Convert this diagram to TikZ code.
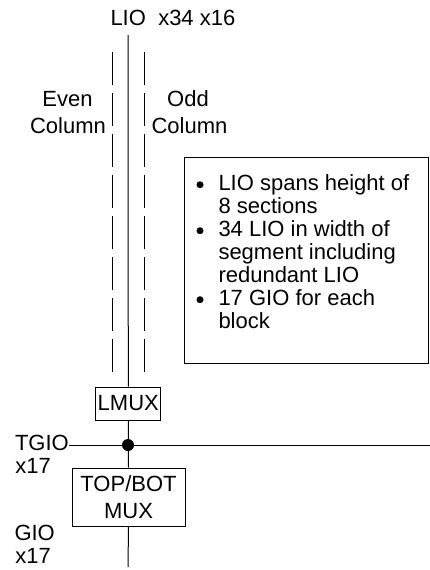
\documentclass[tikz,border=0pt]{standalone}
\usepackage{fontspec}
\setmainfont{Liberation Sans}
\begin{document}
\begin{tikzpicture}[x=1pt,y=-1pt,line width=1pt,
  txt/.style={font=\fontsize{22}{26.7}\selectfont, inner sep=0pt},
  boxn/.style={draw, inner sep=0pt, font=\fontsize{22}{26.7}\selectfont, align=center},
  dashline/.style={dash pattern=on 33pt off 8pt},
  bul/.style={circle, fill, inner sep=0pt, minimum size=7pt},
  dot/.style={circle, fill, inner sep=0pt, minimum size=12pt}]
\useasboundingbox (0,0) rectangle (430,570);
% top label
\node[txt,anchor=base west] (lio) at (110,25) {LIO\hspace{12.3pt}x34 x16};
\coordinate (ltop) at (128,35);
\coordinate (lbot) at (128,567);
\coordinate (jc) at (128,445);
\coordinate (tend) at (430,445);
% dashed column lines
\coordinate (de1) at (112,52);
\coordinate (de2) at (112,372);
\coordinate (do1) at (144,52);
\coordinate (do2) at (144,372);
\draw[dashline] (de1) -- (de2);
\draw[dashline] (do1) -- (do2);
% column labels
\node[txt,anchor=base] (even) at (67.5,106.7) {Even};
\node[txt,anchor=base] (ecol) at (68,133.3) {Column};
\node[txt,anchor=base] (odd) at (188,106.7) {Odd};
\node[txt,anchor=base] (ocol) at (189.5,133.3) {Column};
% boxes
\node[boxn, minimum width=65.3pt, minimum height=33pt] (lmux) at (128.3,403.5) {LMUX};
\node[boxn, minimum width=113pt, minimum height=58pt] (tb) at (128.5,497) {TOP/BOT\\MUX};
% side labels
\node[txt,anchor=base west] (tgio) at (14.5,450) {TGIO};
\node[txt,anchor=base west] (tx) at (15,473) {x17};
\node[txt,anchor=base west] (gio) at (14,540) {GIO};
\node[txt,anchor=base west] (gx) at (15,563) {x17};
% wires
\draw (ltop) -- (lmux.north);
\draw (lmux.south) -- (tb.north);
\draw (tb.south) -- (lbot);
\draw (tgio.east |- jc) -- (tend);
\node[dot] (j) at (jc) {};
% notes box
\node[draw, minimum width=244pt, minimum height=206pt, inner sep=0pt] (notes) at (306,260) {};
\node[bul] (b1) at (200,184.7) {};
\node[bul] (b2) at (200,230.7) {};
\node[bul] (b3) at (200,299.7) {};
\node[txt,anchor=base west] (n1) at (218,190.7) {LIO spans height of};
\node[txt,anchor=base west] (n2) at (218,213.7) {8 sections};
\node[txt,anchor=base west] (n3) at (218,236.7) {34 LIO in width of};
\node[txt,anchor=base west] (n4) at (218,259.7) {segment including};
\node[txt,anchor=base west] (n5) at (218,282.7) {redundant LIO};
\node[txt,anchor=base west] (n6) at (218,305.7) {17 GIO for each};
\node[txt,anchor=base west] (n7) at (218,328.7) {block};
\end{tikzpicture}
\end{document}
